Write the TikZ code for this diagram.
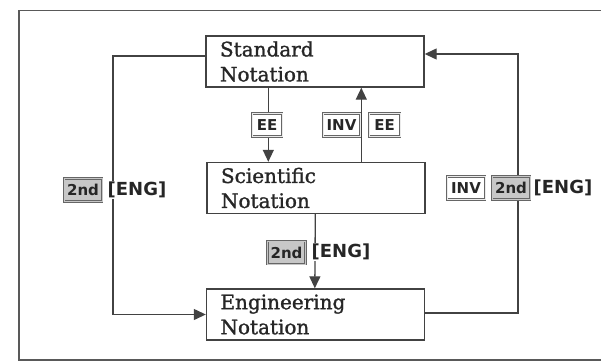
\documentclass[tikz,border=0pt]{standalone}
\usepackage{fontspec}
\setmainfont{DejaVu Serif}
\newfontfamily\notefont[FakeBold=1.3]{DejaVu Serif}
\newfontfamily\keyfont{DejaVu Sans}
\usetikzlibrary{arrows.meta}
\definecolor{ink}{HTML}{262626}
\definecolor{edge}{HTML}{424242}
\tikzset{
  notebox/.style={draw=edge, line width=1.4pt, fill=white, minimum width=218pt, minimum height=51pt,
    text width=190pt, align=left, inner xsep=14pt, text=ink, font=\notefont\fontsize{20}{25}\selectfont},
  keybox/.style={draw=black!60, double=black!8, double distance=0.8pt, line width=0.7pt, fill=white,
    minimum height=23pt, inner xsep=3pt, inner ysep=2pt, text=ink, font=\keyfont\bfseries\fontsize{15}{15}\selectfont},
  shiftkey/.style={keybox, double=black!22, fill=black!22},
  cmd/.style={fill=white, inner sep=1pt, text=ink, font=\keyfont\bfseries\fontsize{18}{18}\selectfont},
  conn/.style={draw=edge, line width=1.3pt, -{Triangle[length=12pt, width=11pt]}},
}
\begin{document}
\begin{tikzpicture}[x=1pt, y=-1pt]
\useasboundingbox (0,0) rectangle (601,362);
\clip (0,0) rectangle (601,362);
% outer frame
\draw[draw=black!65, line width=1.8pt] (19,10.5) rectangle (640,360);
% notation boxes
\node[notebox] (std) at (315,61.5) {Standard\\Notation};
\node[notebox] (sci) at (316,188) {Scientific\\Notation};
\node[notebox] (eng) at (315.5,314.5) {Engineering\\Notation};
\coordinate (L) at (113,190);
\coordinate (R) at (518,188);
% connectors
\draw[conn] ([xshift=63pt]std.south west) -- ([xshift=62pt]sci.north west);
\draw[conn] ([xshift=155pt]sci.north west) -- ([xshift=156pt]std.south west);
\draw[conn] ([xshift=109pt]sci.south west) -- ([xshift=109pt]eng.north west);
\draw[conn] ([yshift=5.5pt]std.west) -| (L) |- (eng.west);
\draw[conn] ([yshift=1.5pt]eng.east) -| (R) |- ([yshift=7.5pt]std.east);
% key labels
\node[keybox, minimum width=30pt] (ee1) at (267,125) {EE};
\node[keybox, minimum width=37pt] (inv1) at (341.5,125) {INV};
\node[keybox, minimum width=31pt] (ee2) at (384.5,125) {EE};
\node[shiftkey, minimum width=37pt] (snd1) at (286.5,252.5) {2nd};
\node[cmd] (eng1) at (341,252) {[ENG]};
\node[shiftkey, minimum width=37pt] (snd2) at (83,190) {2nd};
\node[cmd] (eng2) at (137,190) {[ENG]};
\node[keybox, minimum width=38pt] (inv2) at (466,188) {INV};
\node[shiftkey, minimum width=37pt] (snd3) at (511,188) {2nd};
\node[cmd] (eng3) at (563,188) {[ENG]};
\end{tikzpicture}
\end{document}
